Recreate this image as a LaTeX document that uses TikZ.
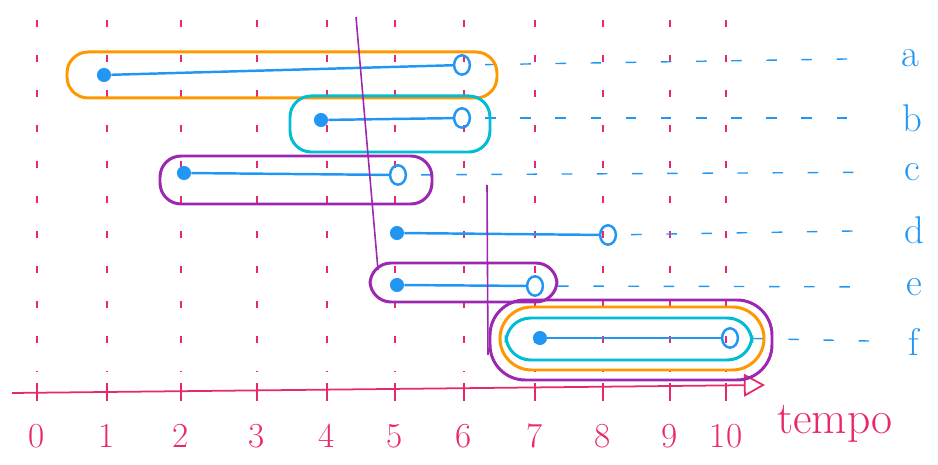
\documentclass[tikz,border=0pt]{standalone}
\usetikzlibrary{arrows.meta}
\definecolor{rosa}{HTML}{E8286E}
\definecolor{azul}{HTML}{2196F3}
\definecolor{laranja}{HTML}{FF9800}
\definecolor{ciano}{HTML}{00BCD4}
\definecolor{roxo}{HTML}{9C27B0}
\tikzset{ini/.style={circle,fill=azul,inner sep=0pt,minimum size=8pt},
fim/.style={ellipse,draw=azul,line width=1.4pt,inner sep=0pt,minimum width=9pt,minimum height=11pt},
guia/.style={azul,line width=.8pt,dash pattern=on 6pt off 14pt,shorten <=8pt,shorten >=18pt},
laco/.style={line width=1.7pt,rounded corners=12pt},
num/.style={rosa,font=\fontsize{20}{24}\selectfont},
letra/.style={azul,font=\fontsize{22}{26}\selectfont}}
\usetikzlibrary{shapes.geometric}
\begin{document}
\begin{tikzpicture}[x=0.02cm,y=-0.02cm]
\useasboundingbox(0,0)rectangle(938,465);
\foreach\t/\x in{0/37,1/107,2/181,3/257,4/327,5/395,6/464,7/535,8/603,9/670,10/726}{
\draw[rosa,line width=.7pt,dash pattern=on 4pt off 16pt](\x,20)--(\x,372);
\node[inner sep=0pt](t\t)at(\x,392){};\draw[rosa,line width=.9pt](\x,383)--(\x,401);
\node[num](n\t)at(\x,436){\t};}
\draw[rosa,line width=1pt,-{Triangle[open,length=12pt,width=13pt]}](12,393)--(765,385);
\node[rosa,font=\fontsize{26}{30}\selectfont](tempo)at(835,424){tempo};
% intervalos
\node[ini](ia)at(104,75){};\node[fim](fa)at(462,65){};
\node[ini](ib)at(321,120){};\node[fim](fb)at(462,118){};
\node[ini](ic)at(184,173){};\node[fim](fc)at(398,175){};
\node[ini](id)at(397,233){};\node[fim](fd)at(608,235){};
\node[ini](ie)at(397,285){};\node[fim](fe)at(535,286){};
\node[ini](if)at(540,338){};\node[fim](ff)at(730,338){};
\node[letra](la)at(910,58){a};\node[letra](lb)at(912,118){b};\node[letra](lc)at(912,172){c};
\node[letra](ld)at(914,230){d};\node[letra](le)at(914,287){e};\node[letra](lf)at(914,342){f};
\foreach\i in{a,b,c,d,e,f}{
\draw[azul,line width=1.4pt](i\i)--(f\i);\draw[guia](f\i)--(l\i);}
% lacos
\draw[laco,laranja](67,52)rectangle(497,98);
\draw[laco,ciano](290,96)rectangle(490,152);
\draw[laco,roxo](160,156)rectangle(432,204);
\draw[laco,roxo](370,263)rectangle(557,302);
\draw[laco,roxo,rounded corners=20pt](490,300)rectangle(772,380);
\draw[laco,laranja,rounded corners=18pt](500,307)rectangle(764,370);
\draw[laco,ciano,rounded corners=14pt](506,318)rectangle(752,360);
\draw[roxo,line width=.9pt](356,17)--(378,270);\draw[roxo,line width=.9pt](487,185)--(488,355);
\end{tikzpicture}
\end{document}
